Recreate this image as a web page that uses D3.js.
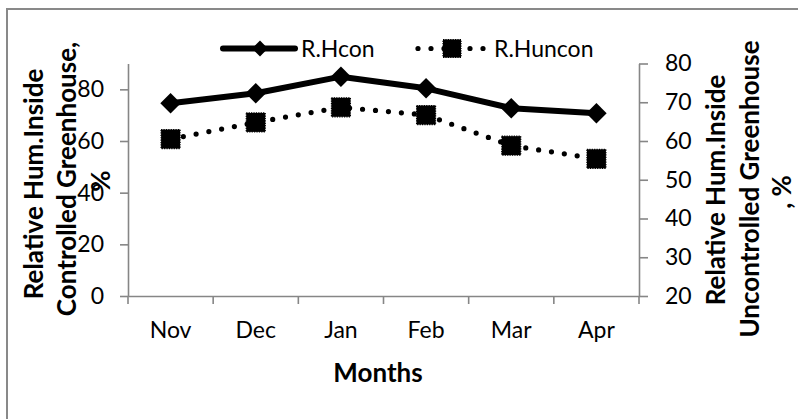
<!DOCTYPE html>
<html><head><meta charset="utf-8">
<script src="https://cdn.jsdelivr.net/npm/d3@7"></script>
<style>body{margin:0;background:#fff} svg{display:block;font-family:Lato,"Open Sans",sans-serif}</style>
</head><body>
<svg id="c" width="798" height="419"></svg>
<script>
const months = ["Nov","Dec","Jan","Feb","Mar","Apr"];
const rhCon = [74.6,78.5,84.9,80.4,72.7,70.7];
const rhUncon = [60.5,64.8,68.7,66.7,58.8,55.4];
const leftTicks = [0,20,40,60,80];
const rightTicks = [20,30,40,50,60,70,80];
const seriesNames = ["R.Hcon","R.Huncon"];
const xTitle = "Months";
const leftTitle = ["Relative Hum.Inside","Controlled Greenhouse,","%"];
const rightTitle = ["Relative Hum.Inside","Uncontrolled Greenhouse",", %"];

const svg = d3.select("#c");
const axisColor = "#868686";
const tickFont = 23, titleFont = 26;

// chart border (partly cropped)
svg.append("rect").attr("x",7).attr("y",9).attr("width",820).attr("height",430)
  .attr("fill","#fff").attr("stroke","#898989").attr("stroke-width",2);

const x = d3.scaleBand().domain(months).range([128,639]);
const bw = x.bandwidth();
const cx = m => x(m) + bw/2;
const yL = d3.scaleLinear().domain([0,90]).range([296,63.5]);
const yR = d3.scaleLinear().domain([20,80]).range([296,63.5]);

function styleAxis(g){
  g.select(".domain").attr("stroke",axisColor).attr("stroke-width",1.6);
  g.selectAll(".tick line").attr("stroke",axisColor).attr("stroke-width",1.6);
  g.selectAll(".tick text").attr("fill","#000").style("font-size",tickFont+"px").style("font-family","Lato");
}

// left axis
const gL = svg.append("g").attr("transform","translate(128,0)")
  .call(d3.axisLeft(yL).tickValues(leftTicks).tickSize(8).tickSizeOuter(0).tickPadding(16));
styleAxis(gL);
// right axis
const gR = svg.append("g").attr("transform","translate(639,0)")
  .call(d3.axisRight(yR).tickValues(rightTicks).tickSize(9).tickSizeOuter(0).tickPadding(17));
styleAxis(gR);
// bottom axis
const gB = svg.append("g").attr("transform","translate(0,296)")
  .call(d3.axisBottom(x).tickSize(0).tickSizeOuter(0).tickPadding(26));
styleAxis(gB);
// category boundary ticks
const bounds = months.map(m => x(m)).concat([x(months[months.length-1]) + bw]);
gB.selectAll("line.bt").data(bounds).enter().append("line").attr("class","bt")
  .attr("x1",d=>d).attr("x2",d=>d).attr("y1",0).attr("y2",8)
  .attr("stroke",axisColor).attr("stroke-width",1.6);

// series lines
const lineL = d3.line().x((d,i)=>cx(months[i])).y(d=>yL(d));
const lineR = d3.line().x((d,i)=>cx(months[i])).y(d=>yR(d));
svg.append("path").attr("d",lineR(rhUncon)).attr("fill","none").attr("stroke","#000")
  .attr("stroke-width",5.2).attr("stroke-dasharray","0 13").attr("stroke-linecap","round");
svg.append("path").attr("d",lineL(rhCon)).attr("fill","none").attr("stroke","#000")
  .attr("stroke-width",6).attr("stroke-linejoin","round");

const diamond = d3.symbol(d3.symbolSquare, 210);
const diamondSmall = d3.symbol(d3.symbolSquare, 125);
const square = d3.symbol(d3.symbolSquare, 361);
const squareSmall = d3.symbol(d3.symbolSquare, 324);

svg.selectAll("path.sq").data(rhUncon).enter().append("path").attr("class","sq")
  .attr("d",square).attr("transform",(d,i)=>`translate(${cx(months[i])},${yR(d)})`)
  .attr("fill","#000").attr("stroke","#000").attr("stroke-width",1.2).attr("stroke-dasharray","1.2 1.2");
svg.selectAll("path.dm").data(rhCon).enter().append("path").attr("class","dm")
  .attr("d",diamond).attr("transform",(d,i)=>`translate(${cx(months[i])},${yL(d)}) rotate(45)`)
  .attr("fill","#000");

// legend
const lg = svg.append("g");
lg.append("line").attr("x1",223).attr("x2",295).attr("y1",48.5).attr("y2",48.5)
  .attr("stroke","#000").attr("stroke-width",6).attr("stroke-linecap","round");
lg.append("path").attr("d",diamondSmall).attr("transform","translate(260,48.5) rotate(45)").attr("fill","#000");
lg.append("text").attr("x",301).attr("y",57).text(seriesNames[0])
  .style("font-size",tickFont+"px").attr("fill","#000");
lg.append("line").attr("x1",418).attr("x2",484).attr("y1",48.5).attr("y2",48.5)
  .attr("stroke","#000").attr("stroke-width",5.2).attr("stroke-dasharray","0 13").attr("stroke-linecap","round");
lg.append("path").attr("d",squareSmall).attr("transform","translate(452,48.5)")
  .attr("fill","#000").attr("stroke","#000").attr("stroke-width",1.2).attr("stroke-dasharray","1.2 1.2");
lg.append("text").attr("x",494).attr("y",57).text(seriesNames[1])
  .style("font-size",tickFont+"px").attr("fill","#000");

// x title
svg.append("text").attr("x",378).attr("y",382).attr("text-anchor","middle")
  .style("font-size",titleFont+"px").style("font-weight","bold").attr("fill","#000").text(xTitle);

// y titles
function vTitle(lines, xs, ys){
  lines.forEach((t,i)=>{
    svg.append("text").attr("transform",`translate(${xs[i]},${ys[i]}) rotate(-90)`)
      .attr("text-anchor","middle").attr("dominant-baseline","central")
      .style("font-size",titleFont+"px").style("font-weight","bold").attr("fill","#000").text(t);
  });
}
vTitle(leftTitle,[33,66,100],[184,179,181]);
vTitle(rightTitle,[715,749,781],[190,189,192]);
</script>
</body></html>
